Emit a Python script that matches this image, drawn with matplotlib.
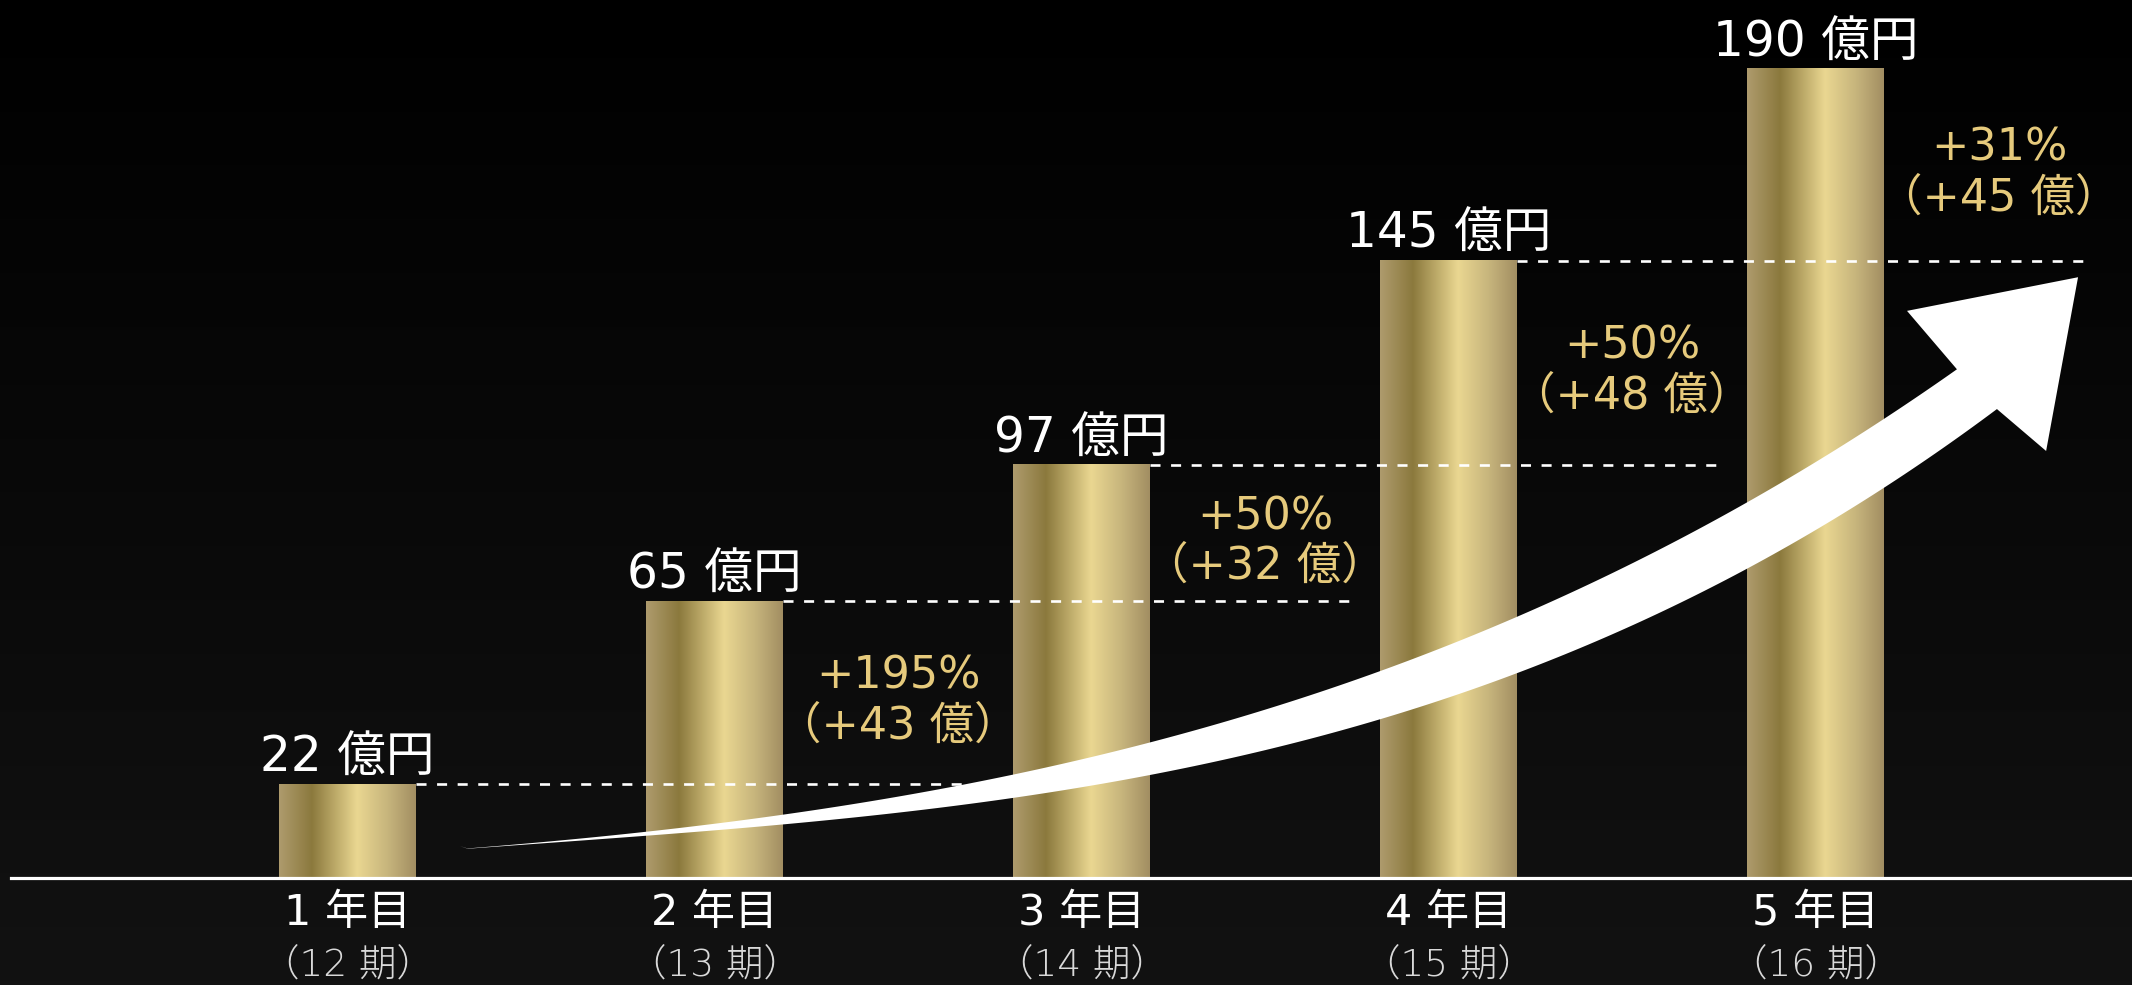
import numpy as np
import matplotlib.pyplot as plt
from matplotlib.colors import LinearSegmentedColormap
from matplotlib.patches import Polygon

# 英数字は幅の広い DejaVu、漢字は Noto Sans CJK
plt.rcParams['font.family'] = ['DejaVu Sans', 'Noto Sans CJK JP']

# 売上推移
years = ['1 年目', '2 年目', '3 年目', '4 年目', '5 年目']
periods = ['（12 期）', '（13 期）', '（14 期）', '（15 期）', '（16 期）']
sales = [22, 65, 97, 145, 190]          # 億円
growth_pct = [195, 50, 50, 31]          # 前年比 %
growth_abs = [43, 32, 48, 45]           # 前年差 億

x = np.arange(len(sales))
bar_w = 0.373

fig = plt.figure(figsize=(21.32, 9.85), dpi=100)
ax = fig.add_axes([0, 0, 1, 1])
xlim = (-0.947, 4.862)
ylim = (-25.1, 206.2)

# 背景 (上が黒、下がわずかに明るい)
bg = np.linspace(0, 1, 256).reshape(-1, 1)
bg_cmap = LinearSegmentedColormap.from_list('bg', ['#000000', '#121212'])
ax.imshow(bg, extent=[*xlim, *ylim], origin='upper', aspect='auto',
          cmap=bg_cmap, zorder=0)

# ゴールドの棒
gold = LinearSegmentedColormap.from_list('gold', [
    (0.0, '#ae9b6d'), (0.24, '#8b793d'), (0.57, '#ead791'),
    (0.8, '#c6b47c'), (1.0, '#a28e62')])
grad = np.linspace(0, 1, 256).reshape(1, -1)
bars = ax.bar(x, sales, width=bar_w, color='none', zorder=2)
for b in bars:
    ax.imshow(grad, extent=[b.get_x(), b.get_x() + b.get_width(), 0, b.get_height()],
              aspect='auto', cmap=gold, zorder=2)

# 前年の高さを示す点線
for i in range(len(sales) - 1):
    ax.hlines(sales[i], x[i] + bar_w / 2, x[i] + 1.75, colors='white', lw=1.9,
              linestyles=(0, (3.8, 4.0)), zorder=3)

# 右肩上がりの矢印
up_x = [0.3065, 0.816, 1.19, 1.816, 2.432, 2.813, 3.184, 3.816, 4.094, 4.184, 4.385]
up_y = [7.5, 9.86, 15.0, 23.7, 38.75, 49.55, 61.5, 87.1, 101.2, 107.6, 121.2]
lo_x = [0.3065, 0.816, 1.19, 1.816, 2.432, 2.813, 3.184, 3.816, 4.094, 4.23, 4.494]
lo_y = [7.5, 9.16, 11.98, 18.8, 29.36, 38.3, 48.4, 71.9, 85.25, 93.5, 111.8]
pu = np.polyfit(up_x, up_y, 3)
pl = np.polyfit(lo_x, lo_y, 3)
xu = np.linspace(up_x[0], up_x[-1], 200)
xl = np.linspace(lo_x[0], lo_x[-1], 200)
upper = np.column_stack([xu, np.polyval(pu, xu)])
lower = np.column_stack([xl, np.polyval(pl, xl)])
upper[0, 1] = lower[0, 1] = 7.5
head = np.array([[4.249, 133.2], [4.715, 141.1], [4.628, 100.3]])
arrow = np.vstack([upper, head, lower[::-1]])
ax.add_patch(Polygon(arrow, closed=True, facecolor='white', edgecolor='none', zorder=4))

# 軸の線
ax.axhline(0, xmin=11 / 2132, xmax=1, color='white', lw=2.3, zorder=5)

# 売上ラベル
for xi, v in zip(x, sales):
    ax.annotate(f'{v} 億円', (xi, v), xytext=(0, 9), textcoords='offset points',
                ha='center', va='baseline', fontsize=35, color='white', zorder=6)

# 伸び率ラベル
for k in range(1, len(sales)):
    mid = (sales[k - 1] + sales[k]) / 2
    ax.annotate(f'+{growth_pct[k - 1]}%', (x[k] + 0.5, mid), xytext=(0, 12),
                textcoords='offset points', ha='center', va='center',
                fontsize=32, color='#e6ca7c', zorder=6)
    ax.annotate(f'（+{growth_abs[k - 1]} 億）', (x[k] + 0.5, mid), xytext=(0, -24),
                textcoords='offset points', ha='center', va='center',
                fontsize=32, color='#e6ca7c', zorder=6)

# 年次ラベル
for xi, yr, pr in zip(x, years, periods):
    ax.annotate(yr, (xi, 0), xytext=(0, -25), textcoords='offset points',
                ha='center', va='center', fontsize=31, color='white', zorder=6)
    ax.annotate(pr, (xi, 0), xytext=(0, -63), textcoords='offset points',
                ha='center', va='center', fontsize=27, color='#d9d9d9',
                fontweight='light', zorder=6)

ax.set_xlim(*xlim)
ax.set_ylim(*ylim)
ax.axis('off')

fig.savefig('out.png', dpi=100, facecolor='black')
